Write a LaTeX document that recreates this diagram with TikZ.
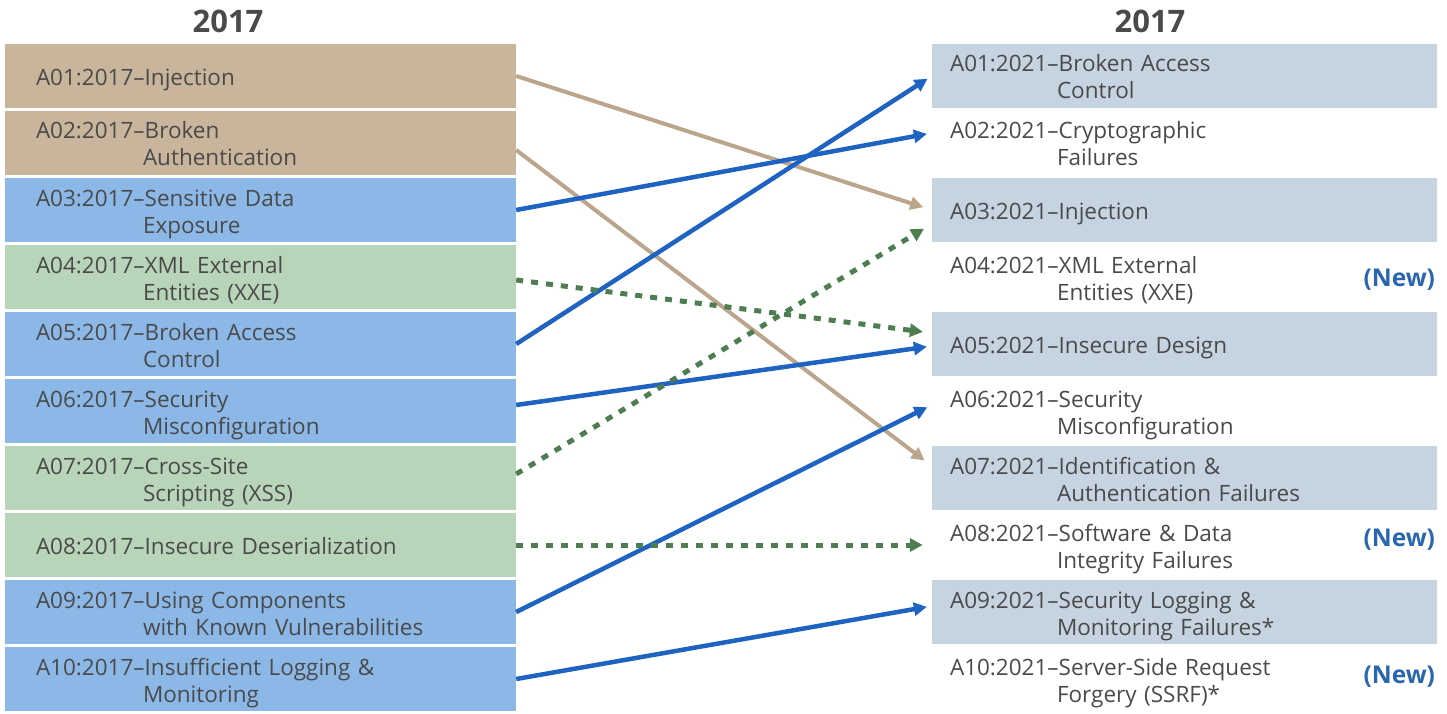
\documentclass[tikz,border=0pt]{standalone}
\usepackage{fontspec}
\setmainfont{Open Sans}
\usepackage{xcolor}
\usepackage{tikz}
\usetikzlibrary{arrows.meta}

\definecolor{tanfill}{HTML}{C9B59C}
\definecolor{bluefill}{HTML}{8CB8E8}
\definecolor{greenfill}{HTML}{B9D5B9}
\definecolor{greyfill}{HTML}{C6D3E1}
\definecolor{textgrey}{HTML}{4A4A4A}
\definecolor{tanline}{HTML}{BBA58D}
\definecolor{blueline}{HTML}{1F63C2}
\definecolor{greenline}{HTML}{4E7D52}
\definecolor{newblue}{HTML}{2A66B0}

\newcommand{\nextline}[1]{\\\hspace*{107pt}#1}

\begin{document}
\begin{tikzpicture}[x=1pt,y=-1pt,
	oldrisk/.style={inner xsep=31pt, inner ysep=0pt, text width=449pt, minimum height=64pt,
		align=left, text=textgrey, font=\fontsize{22.5}{27}\selectfont,
		execute at begin node={\rule{0pt}{25pt}}, execute at end node={\rule[-6pt]{0pt}{0pt}}},
	newrisk/.style={inner xsep=18pt, inner ysep=0pt, text width=469pt, minimum height=64pt,
		align=left, text=textgrey, font=\fontsize{22.5}{27}\selectfont,
		execute at begin node={\rule{0pt}{25pt}}, execute at end node={\rule[-6pt]{0pt}{0pt}}},
	year/.style={text=textgrey, font=\fontsize{31}{33}\selectfont\bfseries},
	newtag/.style={anchor=east, text=newblue, inner sep=0pt, font=\fontsize{24.5}{26}\selectfont\bfseries},
	blueedge/.style={draw=blueline, line width=4.5pt, shorten >=5pt},
	tanedge/.style={draw=tanline, line width=4pt, shorten >=9pt},
	greenedge/.style={draw=greenline, line width=5pt, dash pattern=on 7pt off 8pt, shorten >=9pt}]
		\useasboundingbox (0,0) rectangle (1447,714);
		% headers
		\node[year] (H1) at (228,21) {2017};
		\node[year] (H2) at (1150,21) {2017};
		% left column
		\node[oldrisk,fill=tanfill] (L1) at (260.5,76) {A01:2017–Injection};
		\node[oldrisk,fill=tanfill] (L2) at (260.5,143) {A02:2017–Broken\nextline{Authentication}};
		\node[oldrisk,fill=bluefill] (L3) at (260.5,210) {A03:2017–Sensitive Data\nextline{Exposure}};
		\node[oldrisk,fill=greenfill] (L4) at (260.5,277) {A04:2017–XML External\nextline{Entities (XXE)}};
		\node[oldrisk,fill=bluefill] (L5) at (260.5,344) {A05:2017–Broken Access\nextline{Control}};
		\node[oldrisk,fill=bluefill] (L6) at (260.5,411) {A06:2017–Security\nextline{Misconfiguration}};
		\node[oldrisk,fill=greenfill] (L7) at (260.5,478) {A07:2017–Cross-Site\nextline{Scripting (XSS)}};
		\node[oldrisk,fill=greenfill] (L8) at (260.5,545) {A08:2017–Insecure Deserialization};
		\node[oldrisk,fill=bluefill] (L9) at (260.5,612) {A09:2017–Using Components\nextline{with Known Vulnerabilities}};
		\node[oldrisk,fill=bluefill] (L10) at (260.5,679) {A10:2017–Insufficient Logging \&\nextline{Monitoring}};
		% right column
		\node[newrisk,fill=greyfill] (R1) at (1184.5,76) {A01:2021–Broken Access\nextline{Control}};
		\node[newrisk] (R2) at (1184.5,143) {A02:2021–Cryptographic\nextline{Failures}};
		\node[newrisk,fill=greyfill] (R3) at (1184.5,210) {A03:2021–Injection};
		\node[newrisk] (R4) at (1184.5,277) {A04:2021–XML External\nextline{Entities (XXE)}};
		\node[newrisk,fill=greyfill] (R5) at (1184.5,344) {A05:2021–Insecure Design};
		\node[newrisk] (R6) at (1184.5,411) {A06:2021–Security\nextline{Misconfiguration}};
		\node[newrisk,fill=greyfill] (R7) at (1184.5,478) {A07:2021–Identification \&\nextline{Authentication Failures}};
		\node[newrisk] (R8) at (1184.5,545) {A08:2021–Software \& Data\nextline{Integrity Failures}};
		\node[newrisk,fill=greyfill] (R9) at (1184.5,612) {A09:2021–Security Logging \&\nextline{Monitoring Failures*}};
		\node[newrisk] (R10) at (1184.5,679) {A10:2021–Server-Side Request\nextline{Forgery (SSRF)*}};
		\node[newtag] (N4) at ([xshift=-2pt,yshift=-3pt]R4.east) {(New)};
		\node[newtag] (N8) at ([xshift=-2pt,yshift=5pt]R8.east) {(New)};
		\node[newtag] (N10) at ([xshift=-2pt,yshift=2pt]R10.east) {(New)};
		%
		\path[->,>={Triangle[length=13pt,width=13pt]}]
		% tan arrows
		(L1.east) edge[tanedge] (R3.west)
		([yshift=-7pt]L2.east) edge[tanedge] ([yshift=12pt]R7.west)
		% blue arrows
		(L3.east) edge[blueedge] ([yshift=10pt]R2.west)
		(L5.east) edge[blueedge] (R1.west)
		([yshift=6pt]L6.east) edge[blueedge] ([yshift=-2pt]R5.west)
		(L9.east) edge[blueedge] ([yshift=6pt]R6.west)
		(L10.east) edge[blueedge] ([yshift=6pt]R9.west)
		% green dotted arrows
		([yshift=-3pt]L4.east) edge[greenedge] ([yshift=11pt]R5.west)
		([yshift=4pt]L7.east) edge[greenedge] ([yshift=-14pt]R3.west)
		(L8.east) edge[greenedge] (R8.west);
	\end{tikzpicture}
\end{document}
